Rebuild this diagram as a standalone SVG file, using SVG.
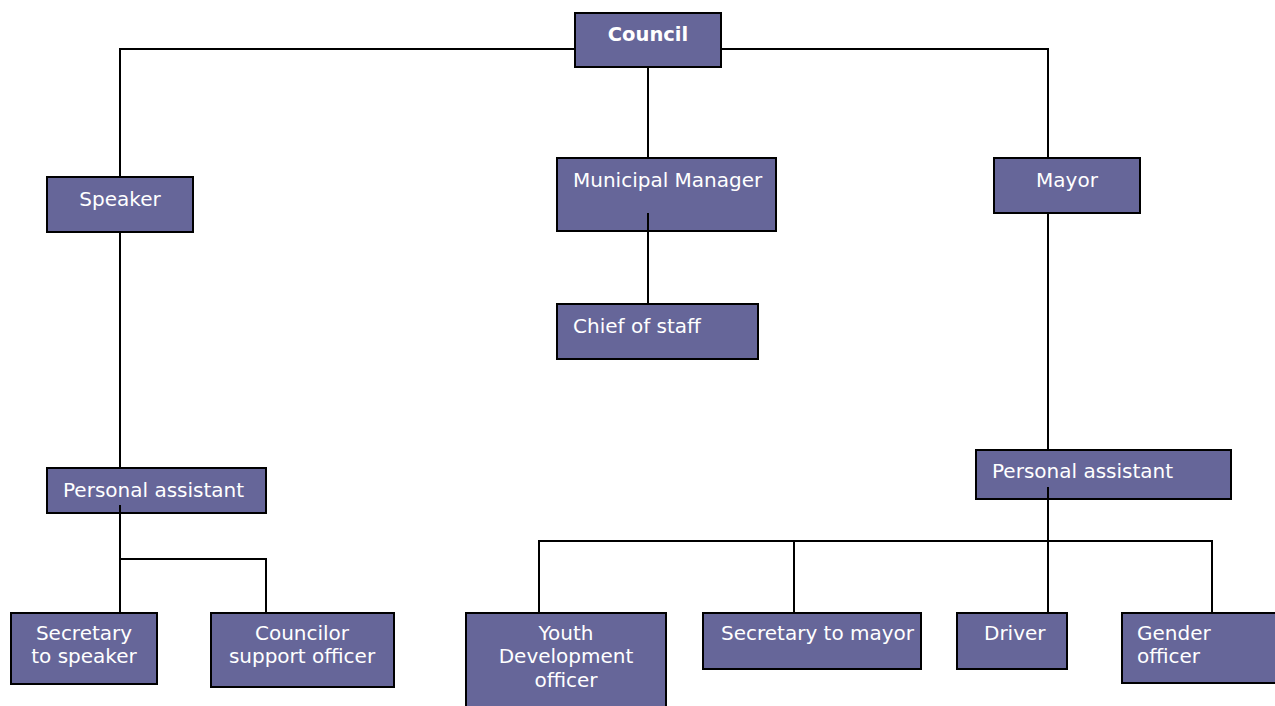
<svg xmlns="http://www.w3.org/2000/svg" width="1275" height="706" viewBox="0 0 1275 706">
  <style>
    .box { fill: #666699; stroke: #000; stroke-width: 2; }
    .lbl { font-family: "DejaVu Sans", Verdana, sans-serif; font-size: 20px; fill: #ffffff; }
    .mid { text-anchor: middle; }
    .bold { font-weight: bold; font-size: 19.5px; }
    .wire { fill: none; stroke: #000; stroke-width: 2; }
  </style>
  <rect width="1275" height="706" fill="#ffffff"/>

  <g id="council">
    <rect class="box" x="575" y="13" width="146" height="54"/>
    <text class="lbl mid bold" x="648" y="41">Council</text>
  </g>

  <g id="speaker">
    <rect class="box" x="47" y="177" width="146" height="55"/>
    <text class="lbl mid" x="120" y="206">Speaker</text>
  </g>

  <g id="municipal-manager">
    <rect class="box" x="557" y="158" width="219" height="73"/>
    <text class="lbl" x="573" y="187">Municipal Manager</text>
  </g>

  <g id="mayor">
    <rect class="box" x="994" y="158" width="146" height="55"/>
    <text class="lbl mid" x="1067" y="187">Mayor</text>
  </g>

  <g id="chief-of-staff">
    <rect class="box" x="557" y="304" width="201" height="55"/>
    <text class="lbl" x="573" y="333">Chief of staff</text>
  </g>

  <g id="speaker-assistant">
    <rect class="box" x="47" y="468" width="219" height="45"/>
    <text class="lbl" x="63" y="497">Personal assistant</text>
  </g>

  <g id="mayor-assistant">
    <rect class="box" x="976" y="450" width="255" height="49"/>
    <text class="lbl" x="992" y="478">Personal assistant</text>
  </g>

  <g id="secretary-speaker">
    <rect class="box" x="11" y="613" width="146" height="71"/>
    <text class="lbl mid" x="84" y="640">Secretary</text>
    <text class="lbl mid" x="84" y="663">to speaker</text>
  </g>

  <g id="councilor-support">
    <rect class="box" x="211" y="613" width="183" height="74"/>
    <text class="lbl mid" x="302" y="640">Councilor</text>
    <text class="lbl mid" x="302" y="663">support officer</text>
  </g>

  <g id="youth-development">
    <rect class="box" x="466" y="613" width="200" height="100"/>
    <text class="lbl mid" x="566" y="640">Youth</text>
    <text class="lbl mid" x="566" y="663">Development</text>
    <text class="lbl mid" x="566" y="687">officer</text>
  </g>

  <g id="secretary-mayor">
    <rect class="box" x="703" y="613" width="218" height="56"/>
    <text class="lbl" x="721" y="640">Secretary to mayor</text>
  </g>

  <g id="driver">
    <rect class="box" x="957" y="613" width="110" height="56"/>
    <text class="lbl" x="984" y="640">Driver</text>
  </g>

  <g id="gender-officer">
    <rect class="box" x="1122" y="613" width="165" height="70"/>
    <text class="lbl" x="1137" y="640">Gender</text>
    <text class="lbl" x="1137" y="663">officer</text>
  </g>

  <!-- reporting lines, drawn last so the stubs inside some boxes show -->
  <g id="connectors">
    <polyline class="wire" points="575,49 120,49 120,177"/>
    <polyline class="wire" points="721,49 1048,49 1048,158"/>
    <line class="wire" x1="648" y1="67" x2="648" y2="158"/>
    <line class="wire" x1="648" y1="213" x2="648" y2="304"/>
    <line class="wire" x1="120" y1="232" x2="120" y2="468"/>
    <line class="wire" x1="1048" y1="213" x2="1048" y2="450"/>
    <line class="wire" x1="120" y1="505" x2="120" y2="613"/>
    <polyline class="wire" points="120,559 266,559 266,613"/>
    <line class="wire" x1="1048" y1="487" x2="1048" y2="613"/>
    <polyline class="wire" points="539,613 539,541 1212,541 1212,613"/>
    <line class="wire" x1="794" y1="541" x2="794" y2="613"/>
  </g>
</svg>
